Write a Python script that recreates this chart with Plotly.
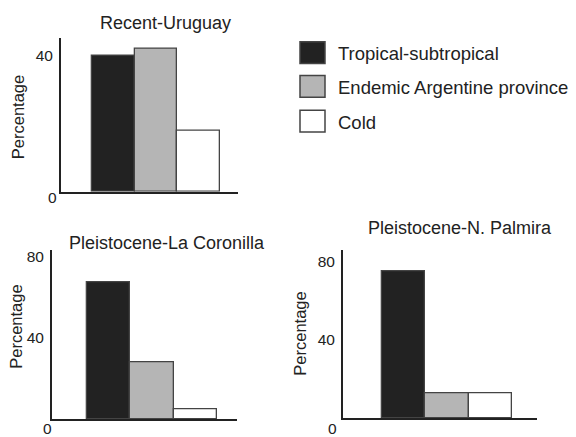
import plotly.graph_objects as go

W, H = 576, 437

categories = ["Tropical-subtropical", "Endemic Argentine province", "Cold"]
colors = ["#222222", "#b5b5b5", "#ffffff"]

titles = ["Recent-Uruguay", "Pleistocene-La Coronilla", "Pleistocene-N. Palmira"]
recent_uruguay = [40, 42, 18]
la_coronilla = [67, 28, 5]
n_palmira = [75, 12.5, 12.5]
series = [recent_uruguay, la_coronilla, n_palmira]
y_ticks = [[40], [40, 80], [40, 80]]

FONT = "Liberation Sans, Arial, sans-serif"
TXT = "#222222"

def px_x(p):
    return p / W

def px_y(p):
    return 1 - p / H

# panel geometry in pixels: (x_left, x_right, y_top, y_bottom), x range, y range
panels = [
    dict(x0=61, x1=238, yt=35, yb=190, xr=[-1.227, 2.92], yr=[0, 45.3]),
    dict(x0=52, x1=237, yt=249, yb=419, xr=[-1.308, 2.96], yr=[0, 82.9]),
    dict(x0=343, x1=537, yt=249, yb=418, xr=[-1.40, 3.077], yr=[0, 85.6]),
]

fig = go.Figure()
layout = dict(
    width=W, height=H, margin=dict(l=0, r=0, t=0, b=0),
    paper_bgcolor="white", plot_bgcolor="white",
    showlegend=False, bargap=0,
    font=dict(family=FONT, color=TXT, size=16),
)

annotations = []
shapes = []

for i, (vals, p) in enumerate(zip(series, panels)):
    xa = "x" if i == 0 else f"x{i+1}"
    ya = "y" if i == 0 else f"y{i+1}"
    for j, (cat, v, c) in enumerate(zip(categories, vals, colors)):
        fig.add_trace(go.Bar(
            x=[j], y=[v], name=cat, width=1,
            marker=dict(color=c, line=dict(color="#444444", width=1.3)),
            xaxis=xa, yaxis=ya, showlegend=False,
        ))
    xkey = "xaxis" if i == 0 else f"xaxis{i+1}"
    ykey = "yaxis" if i == 0 else f"yaxis{i+1}"
    layout[xkey] = dict(
        domain=[px_x(p["x0"]), px_x(p["x1"])], range=p["xr"], anchor=ya,
        showline=True, linecolor="#222222", linewidth=2,
        showticklabels=False, ticks="", showgrid=False, zeroline=False, fixedrange=True,
    )
    layout[ykey] = dict(
        domain=[px_y(p["yb"]), px_y(p["yt"])], range=p["yr"], anchor=xa,
        showline=True, linecolor="#222222", linewidth=2,
        tickvals=y_ticks[i], ticks="", ticklabelstandoff=3,
        tickfont=dict(size=15.5, family=FONT, color=TXT),
        showgrid=False, zeroline=False, fixedrange=True,
    )

# panel titles
title_pos = [(165, 20), (167, 242), (460, 227)]
for t, (cx, cy) in zip(titles, title_pos):
    annotations.append(dict(text=t, x=px_x(cx), y=px_y(cy), xref="paper", yref="paper",
                            xanchor="center", yanchor="middle", showarrow=False,
                            font=dict(size=18, family=FONT, color=TXT)))

# y-axis titles
ytitle_pos = [(18, 115), (16, 326), (300, 333)]
for (cx, cy) in ytitle_pos:
    annotations.append(dict(text="Percentage", x=px_x(cx), y=px_y(cy), xref="paper", yref="paper",
                            xanchor="center", yanchor="middle", textangle=-90, showarrow=False,
                            font=dict(size=16.5, family=FONT, color=TXT)))

# zero labels (sit below the baseline in the original)
zero_pos = [(59, 196), (54, 428), (339, 428)]
for (rx, cy) in zero_pos:
    annotations.append(dict(text="0", x=px_x(rx), y=px_y(cy), xref="paper", yref="paper",
                            xanchor="right", yanchor="middle", showarrow=False,
                            font=dict(size=15.5, family=FONT, color=TXT)))

# legend (manual, large swatches)
leg_rows = [(39, 61, 51), (73, 95, 85), (108, 130, 120)]
for cat, c, (t, b, cy) in zip(categories, colors, leg_rows):
    shapes.append(dict(type="rect", xref="paper", yref="paper",
                       x0=px_x(300), x1=px_x(325), y0=px_y(b), y1=px_y(t),
                       fillcolor=c, line=dict(color="#444444", width=1.5)))
    annotations.append(dict(text=cat, x=px_x(336), y=px_y(cy), xref="paper", yref="paper",
                            xanchor="left", yanchor="middle", showarrow=False,
                            font=dict(size=18.5, family=FONT, color=TXT)))

layout["annotations"] = annotations
layout["shapes"] = shapes
fig.update_layout(**layout)

fig.write_html("out.html")
